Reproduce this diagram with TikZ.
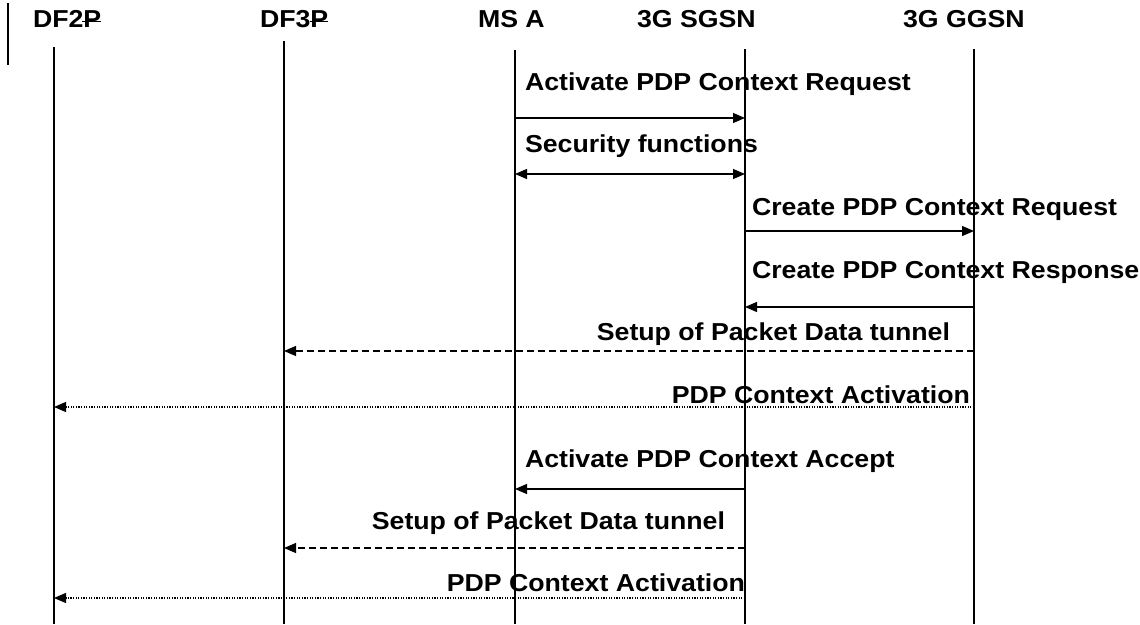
\documentclass[tikz,border=0pt]{standalone}
\usepackage{fontspec}
\setmainfont{Liberation Sans}[FakeStretch=1.09]
\usetikzlibrary{arrows.meta}
\begin{document}
\begin{tikzpicture}[x=1pt,y=-1pt,
  every node/.style={inner sep=0pt,outer sep=0pt,font=\fontsize{24.5}{27}\selectfont\bfseries},
  lbl/.style={anchor=base west},
  lblr/.style={anchor=base east},
  life/.style={line width=1.3pt},
  msg/.style={line width=1.2pt,-{Triangle[length=12pt,width=10pt]}},
  dmsg/.style={line width=1.2pt,{Triangle[length=12pt,width=10pt]}-{Triangle[length=12pt,width=10pt]}},
  dash msg/.style={msg,dash pattern=on 7pt off 4pt},
  dot msg/.style={msg,dash pattern=on 1.3pt off 1.3pt},
  strike/.style={line width=1.2pt}]
\useasboundingbox (0,0) rectangle (1140,624);
% left bar
\coordinate (barT) at (8,3);
\coordinate (barB) at (8,65);
\draw[life] (barT) -- (barB);
% headers
\node[lbl] (hdf2) at (33,27) {DF2P};
\node[lbl] (hdf3) at (260,27) {DF3P};
\node[lbl] (hms) at (478,27) {MS A};
\node[lbl] (hsg) at (637,27) {3G SGSN};
\node[lbl] (hgg) at (903,27) {3G GGSN};
% strikes on P
\coordinate (s2a) at (82,21.7); \coordinate (s2b) at (101,21.7);
\coordinate (s3a) at (310,21.7); \coordinate (s3b) at (328,21.7);
\draw[strike] (s2a) -- (s2b);
\draw[strike] (s3a) -- (s3b);
% lifelines
\coordinate (df2T) at (54,47);  \coordinate (df2B) at (54,624);
\coordinate (df3T) at (284,41); \coordinate (df3B) at (284,624);
\coordinate (msT) at (515,50);  \coordinate (msB) at (515,624);
\coordinate (sgT) at (745,49);  \coordinate (sgB) at (745,624);
\coordinate (ggT) at (974,49);  \coordinate (ggB) at (974,624);
\draw[life] (df2T) -- (df2B);
\draw[life] (df3T) -- (df3B);
\draw[life] (msT) -- (msB);
\draw[life] (sgT) -- (sgB);
\draw[life] (ggT) -- (ggB);
% message endpoints
\coordinate (ms1) at (515,118); \coordinate (sg1) at (745,118);
\coordinate (ms2) at (515,174); \coordinate (sg2) at (745,174);
\coordinate (sg3) at (745,231); \coordinate (gg3) at (974,231);
\coordinate (sg4) at (745,307); \coordinate (gg4) at (974,307);
\coordinate (df3a) at (284,351); \coordinate (gg5) at (974,351);
\coordinate (df2a) at (54,407); \coordinate (gg6) at (974,407);
\coordinate (ms7) at (515,489); \coordinate (sg7) at (745,489);
\coordinate (df3b) at (284,548); \coordinate (sg8) at (745,548);
\coordinate (df2b) at (54,598); \coordinate (sg9) at (745,598);
% messages
\node[lbl] (l1) at (525,90) {Activate PDP Context Request};
\draw[msg] (ms1) -- (sg1);
\node[lbl] (l2) at (525,152) {Security functions};
\draw[dmsg] (ms2) -- (sg2);
\node[lbl] (l3) at (752,215) {Create PDP Context Request};
\draw[msg] (sg3) -- (gg3);
\node[lbl] (l4) at (752,278) {Create PDP Context Response};
\draw[msg] (gg4) -- (sg4);
\node[lblr] (l5) at (950,340) {Setup of Packet Data tunnel};
\draw[dash msg] (gg5) -- (df3a);
\node[lblr] (l6) at (970,403) {PDP Context Activation};
\draw[dot msg] (gg6) -- (df2a);
\node[lbl] (l7) at (525,467) {Activate PDP Context Accept};
\draw[msg] (sg7) -- (ms7);
\node[lblr] (l8) at (725,529) {Setup of Packet Data tunnel};
\draw[dash msg] (sg8) -- (df3b);
\node[lblr] (l9) at (745,591) {PDP Context Activation};
\draw[dot msg] (sg9) -- (df2b);
\end{tikzpicture}
\end{document}
